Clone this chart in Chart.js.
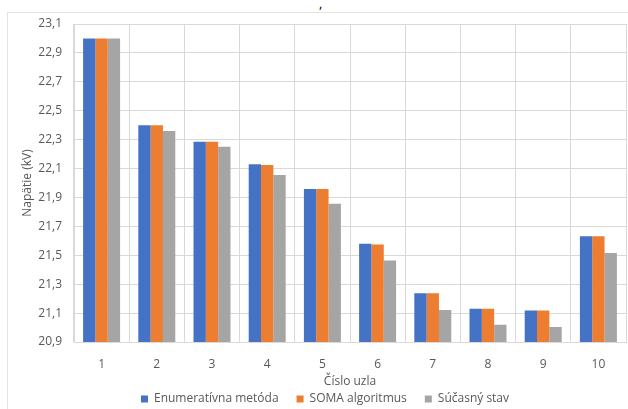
<!DOCTYPE html>
<html>
<head>
<meta charset="utf-8">
<script src="https://cdn.jsdelivr.net/npm/chart.js@4/dist/chart.umd.min.js"></script>
<style>
  body { margin: 0; background: #fff; overflow: hidden; }
  #wrap { position: relative; width: 628px; height: 409px; }
  #frame { position: absolute; left: 7px; top: 12px; width: 700px; height: 500px; border: 1px solid #e3e3e3; box-sizing: border-box; }
  #comma { position: absolute; left: 319px; top: -6px; font: 13px "Open Sans", sans-serif; color: #000; }
  canvas { position: absolute; left: 0; top: 0; }
</style>
</head>
<body>
<div id="wrap">
  <div id="frame"></div>
  <span id="comma">,</span>
  <canvas id="chart" width="628" height="409"></canvas>
</div>
<script>
// Dáta z grafu
const uzly = ['1', '2', '3', '4', '5', '6', '7', '8', '9', '10'];
const enumeracna = [23.0, 22.40, 22.285, 22.13, 21.958, 21.58, 21.238, 21.13, 21.118, 21.632];
const soma       = [23.0, 22.40, 22.285, 22.125, 21.958, 21.575, 21.238, 21.13, 21.118, 21.632];
const sucasny    = [23.0, 22.36, 22.25, 22.055, 21.856, 21.463, 21.122, 21.02, 21.004, 21.515];
const yTicks = [20.9, 21.1, 21.3, 21.5, 21.7, 21.9, 22.1, 22.3, 22.5, 22.7, 22.9, 23.1];

const textColor = '#595959';
const gridColor = '#d9d9d9';
Chart.defaults.font.family = "'Open Sans', sans-serif";
Chart.defaults.font.size = 12;
Chart.defaults.color = textColor;

// posun legendy trochu doprava (ako v exceli)
const legendShift = {
    id: 'legendShift',
    afterLayout(chart) {
        chart.legend.left += 12;
        chart.legend.right += 12;
    }
};

new Chart(document.getElementById('chart').getContext('2d'), {
    type: 'bar',
    data: {
        labels: uzly,
        datasets: [
            { label: 'Enumeratívna metóda', data: enumeracna, backgroundColor: '#4472c4' },
            { label: 'SOMA algoritmus', data: soma, backgroundColor: '#ed7d31' },
            { label: 'Súčasný stav', data: sucasny, backgroundColor: '#a5a5a5' }
        ]
    },
    plugins: [legendShift],
    options: {
        responsive: false,
        animation: false,
        layout: { padding: { top: 24, right: 2, left: 0, bottom: -6 } },
        datasets: { bar: { categoryPercentage: 0.67, barPercentage: 1.0, borderWidth: 0 } },
        plugins: {
            legend: {
                position: 'bottom',
                labels: { boxWidth: 7, boxHeight: 7, padding: 18, color: textColor, font: { size: 12 } }
            },
            tooltip: { enabled: false }
        },
        scales: {
            x: {
                afterFit: scale => { scale.height = 33; },
                grid: { color: gridColor, offset: true, drawTicks: false },
                border: { color: gridColor },
                ticks: { padding: 15, color: textColor },
                title: { display: true, text: 'Číslo uzla', color: textColor, padding: { top: 0, bottom: -14 } }
            },
            y: {
                min: 20.9,
                max: 23.1,
                afterBuildTicks: scale => { scale.ticks = yTicks.map(v => ({ value: v })); },
                afterFit: scale => { scale.width = 74; },
                grid: { color: gridColor, drawTicks: false },
                border: { color: gridColor },
                ticks: {
                    padding: 12,
                    color: textColor,
                    callback: v => v.toFixed(1).replace('.', ',')
                },
                title: { display: true, text: 'Napätie (kV)', color: textColor, padding: { top: 20, bottom: 0 } }
            }
        }
    }
});
</script>
</body>
</html>
